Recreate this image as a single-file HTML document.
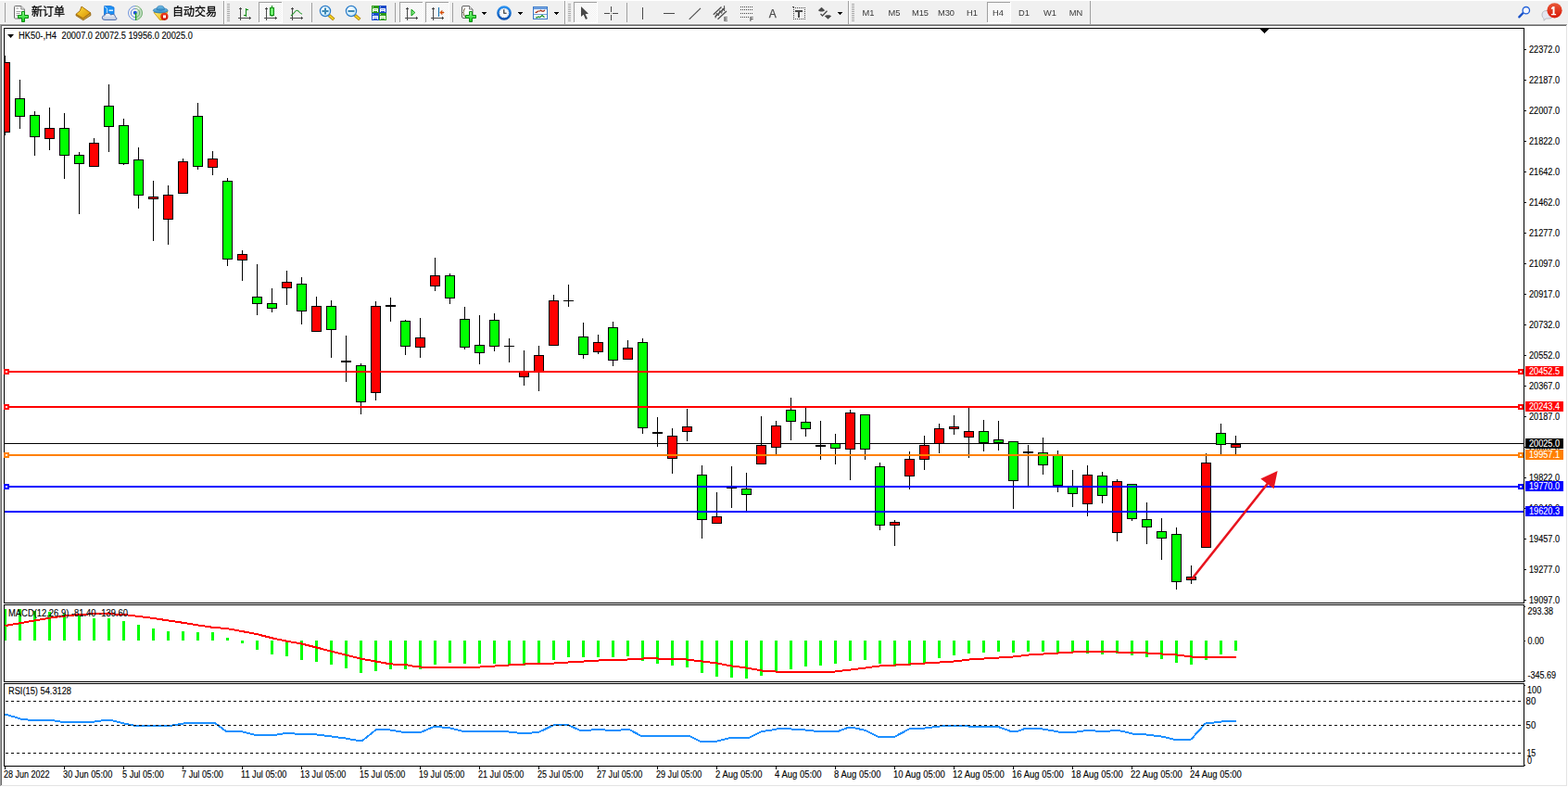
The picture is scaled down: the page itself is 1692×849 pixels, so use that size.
<!DOCTYPE html>
<html><head><meta charset="utf-8"><title>HK50-,H4</title>
<style>
html,body{margin:0;padding:0;background:#fff;width:1692px;height:849px;overflow:hidden;font-family:"Liberation Sans",sans-serif}
svg text{font-family:"Liberation Sans",sans-serif}
</style></head><body>
<svg width="1692" height="849" viewBox="0 0 1692 849" style="position:absolute;left:0;top:0" font-family="Liberation Sans, sans-serif">
<g shape-rendering="crispEdges">
<rect x="0" y="0" width="1692" height="849" fill="#fff"/>
<rect x="0" y="1" width="1692" height="25" fill="#f0f0f0"/>
<rect x="0" y="25" width="1692" height="1" fill="#f8f8f8"/>
<rect x="0" y="26" width="1691" height="1" fill="#a0a0a0"/>
<rect x="0" y="26" width="1" height="822" fill="#a0a0a0"/>
<rect x="1" y="27" width="1689" height="1" fill="#696969"/>
<rect x="1" y="27" width="1" height="820" fill="#696969"/>
<rect x="1690" y="27" width="1" height="821" fill="#e3e3e3"/>
<rect x="1" y="847" width="1690" height="1" fill="#e3e3e3"/>
<rect x="4" y="30" width="1641" height="1" fill="#000"/>
<rect x="4" y="30" width="1" height="621" fill="#000"/><rect x="1644" y="30" width="1" height="621" fill="#000"/>
<rect x="4" y="652" width="1" height="84" fill="#000"/><rect x="1644" y="652" width="1" height="84" fill="#000"/>
<rect x="4" y="737" width="1" height="90" fill="#000"/><rect x="1644" y="737" width="1" height="90" fill="#000"/>
<rect x="1645" y="654" width="1" height="1" fill="#000"/>
<rect x="1645" y="734" width="1" height="1" fill="#000"/>
<rect x="1645" y="739" width="1" height="1" fill="#000"/>
<rect x="1645" y="825" width="1" height="1" fill="#000"/>
<rect x="4" y="650" width="1641" height="1" fill="#000"/>
<rect x="4" y="652" width="1641" height="1" fill="#000"/>
<rect x="4" y="735" width="1641" height="1" fill="#000"/>
<rect x="4" y="737" width="1641" height="1" fill="#000"/>
<rect x="4" y="826" width="1641" height="1" fill="#000"/>
</g>
<g shape-rendering="crispEdges">
<clipPath id="cp"><rect x="5" y="31" width="1639" height="619"/></clipPath>
<rect x="5" y="478" width="1639" height="1" fill="#000"/>
<g clip-path="url(#cp)">
<rect x="5" y="60" width="1" height="86" fill="#000"/>
<rect x="0" y="67" width="11" height="76" fill="#000"/>
<rect x="1" y="68" width="9" height="74" fill="#ff0000"/>
<rect x="21" y="86" width="1" height="53" fill="#000"/>
<rect x="16" y="106" width="11" height="20" fill="#000"/>
<rect x="17" y="107" width="9" height="18" fill="#00ff00"/>
<rect x="37" y="120" width="1" height="48" fill="#000"/>
<rect x="32" y="124" width="11" height="24" fill="#000"/>
<rect x="33" y="125" width="9" height="22" fill="#00ff00"/>
<rect x="53" y="116" width="1" height="46" fill="#000"/>
<rect x="48" y="138" width="11" height="12" fill="#000"/>
<rect x="49" y="139" width="9" height="10" fill="#ff0000"/>
<rect x="69" y="122" width="1" height="71" fill="#000"/>
<rect x="64" y="138" width="11" height="30" fill="#000"/>
<rect x="65" y="139" width="9" height="28" fill="#00ff00"/>
<rect x="85" y="164" width="1" height="67" fill="#000"/>
<rect x="80" y="167" width="11" height="10" fill="#000"/>
<rect x="81" y="168" width="9" height="8" fill="#00ff00"/>
<rect x="101" y="149" width="1" height="31" fill="#000"/>
<rect x="96" y="154" width="11" height="26" fill="#000"/>
<rect x="97" y="155" width="9" height="24" fill="#ff0000"/>
<rect x="117" y="91" width="1" height="73" fill="#000"/>
<rect x="112" y="114" width="11" height="23" fill="#000"/>
<rect x="113" y="115" width="9" height="21" fill="#00ff00"/>
<rect x="133" y="128" width="1" height="50" fill="#000"/>
<rect x="128" y="135" width="11" height="42" fill="#000"/>
<rect x="129" y="136" width="9" height="40" fill="#00ff00"/>
<rect x="149" y="159" width="1" height="66" fill="#000"/>
<rect x="144" y="172" width="11" height="39" fill="#000"/>
<rect x="145" y="173" width="9" height="37" fill="#00ff00"/>
<rect x="165" y="195" width="1" height="65" fill="#000"/>
<rect x="160" y="212" width="11" height="3" fill="#000"/>
<rect x="161" y="213" width="9" height="1" fill="#ff0000"/>
<rect x="181" y="200" width="1" height="64" fill="#000"/>
<rect x="176" y="210" width="11" height="27" fill="#000"/>
<rect x="177" y="211" width="9" height="25" fill="#ff0000"/>
<rect x="197" y="171" width="1" height="38" fill="#000"/>
<rect x="192" y="174" width="11" height="35" fill="#000"/>
<rect x="193" y="175" width="9" height="33" fill="#ff0000"/>
<rect x="213" y="111" width="1" height="72" fill="#000"/>
<rect x="208" y="125" width="11" height="55" fill="#000"/>
<rect x="209" y="126" width="9" height="53" fill="#00ff00"/>
<rect x="229" y="163" width="1" height="26" fill="#000"/>
<rect x="224" y="171" width="11" height="10" fill="#000"/>
<rect x="225" y="172" width="9" height="8" fill="#ff0000"/>
<rect x="245" y="192" width="1" height="95" fill="#000"/>
<rect x="240" y="195" width="11" height="85" fill="#000"/>
<rect x="241" y="196" width="9" height="83" fill="#00ff00"/>
<rect x="261" y="270" width="1" height="33" fill="#000"/>
<rect x="256" y="274" width="11" height="7" fill="#000"/>
<rect x="257" y="275" width="9" height="5" fill="#ff0000"/>
<rect x="277" y="285" width="1" height="55" fill="#000"/>
<rect x="272" y="320" width="11" height="8" fill="#000"/>
<rect x="273" y="321" width="9" height="6" fill="#00ff00"/>
<rect x="293" y="311" width="1" height="26" fill="#000"/>
<rect x="288" y="327" width="11" height="6" fill="#000"/>
<rect x="289" y="328" width="9" height="4" fill="#00ff00"/>
<rect x="309" y="292" width="1" height="37" fill="#000"/>
<rect x="304" y="304" width="11" height="7" fill="#000"/>
<rect x="305" y="305" width="9" height="5" fill="#ff0000"/>
<rect x="325" y="299" width="1" height="51" fill="#000"/>
<rect x="320" y="306" width="11" height="30" fill="#000"/>
<rect x="321" y="307" width="9" height="28" fill="#00ff00"/>
<rect x="341" y="320" width="1" height="38" fill="#000"/>
<rect x="336" y="330" width="11" height="28" fill="#000"/>
<rect x="337" y="331" width="9" height="26" fill="#ff0000"/>
<rect x="357" y="324" width="1" height="62" fill="#000"/>
<rect x="352" y="330" width="11" height="26" fill="#000"/>
<rect x="353" y="331" width="9" height="24" fill="#00ff00"/>
<rect x="373" y="362" width="1" height="50" fill="#000"/>
<rect x="368" y="389" width="11" height="2" fill="#000"/>
<rect x="389" y="392" width="1" height="55" fill="#000"/>
<rect x="384" y="394" width="11" height="40" fill="#000"/>
<rect x="385" y="395" width="9" height="38" fill="#00ff00"/>
<rect x="405" y="325" width="1" height="107" fill="#000"/>
<rect x="400" y="330" width="11" height="94" fill="#000"/>
<rect x="401" y="331" width="9" height="92" fill="#ff0000"/>
<rect x="421" y="321" width="1" height="26" fill="#000"/>
<rect x="416" y="329" width="11" height="2" fill="#000"/>
<rect x="437" y="345" width="1" height="38" fill="#000"/>
<rect x="432" y="346" width="11" height="28" fill="#000"/>
<rect x="433" y="347" width="9" height="26" fill="#00ff00"/>
<rect x="453" y="343" width="1" height="43" fill="#000"/>
<rect x="448" y="364" width="11" height="11" fill="#000"/>
<rect x="449" y="365" width="9" height="9" fill="#ff0000"/>
<rect x="469" y="278" width="1" height="36" fill="#000"/>
<rect x="464" y="297" width="11" height="12" fill="#000"/>
<rect x="465" y="298" width="9" height="10" fill="#ff0000"/>
<rect x="485" y="295" width="1" height="33" fill="#000"/>
<rect x="480" y="297" width="11" height="25" fill="#000"/>
<rect x="481" y="298" width="9" height="23" fill="#00ff00"/>
<rect x="501" y="331" width="1" height="46" fill="#000"/>
<rect x="496" y="344" width="11" height="31" fill="#000"/>
<rect x="497" y="345" width="9" height="29" fill="#00ff00"/>
<rect x="517" y="340" width="1" height="53" fill="#000"/>
<rect x="512" y="372" width="11" height="9" fill="#000"/>
<rect x="513" y="373" width="9" height="7" fill="#00ff00"/>
<rect x="533" y="338" width="1" height="41" fill="#000"/>
<rect x="528" y="345" width="11" height="29" fill="#000"/>
<rect x="529" y="346" width="9" height="27" fill="#00ff00"/>
<rect x="549" y="365" width="1" height="26" fill="#000"/>
<rect x="544" y="373" width="11" height="1" fill="#000"/>
<rect x="565" y="378" width="1" height="38" fill="#000"/>
<rect x="560" y="400" width="11" height="7" fill="#000"/>
<rect x="561" y="401" width="9" height="5" fill="#ff0000"/>
<rect x="581" y="373" width="1" height="49" fill="#000"/>
<rect x="576" y="383" width="11" height="19" fill="#000"/>
<rect x="577" y="384" width="9" height="17" fill="#ff0000"/>
<rect x="597" y="318" width="1" height="55" fill="#000"/>
<rect x="592" y="324" width="11" height="49" fill="#000"/>
<rect x="593" y="325" width="9" height="47" fill="#ff0000"/>
<rect x="613" y="307" width="1" height="24" fill="#000"/>
<rect x="608" y="324" width="11" height="1" fill="#000"/>
<rect x="629" y="348" width="1" height="39" fill="#000"/>
<rect x="624" y="363" width="11" height="20" fill="#000"/>
<rect x="625" y="364" width="9" height="18" fill="#00ff00"/>
<rect x="645" y="361" width="1" height="21" fill="#000"/>
<rect x="640" y="369" width="11" height="11" fill="#000"/>
<rect x="641" y="370" width="9" height="9" fill="#ff0000"/>
<rect x="661" y="347" width="1" height="48" fill="#000"/>
<rect x="656" y="353" width="11" height="36" fill="#000"/>
<rect x="657" y="354" width="9" height="34" fill="#00ff00"/>
<rect x="677" y="367" width="1" height="21" fill="#000"/>
<rect x="672" y="375" width="11" height="13" fill="#000"/>
<rect x="673" y="376" width="9" height="11" fill="#ff0000"/>
<rect x="693" y="365" width="1" height="103" fill="#000"/>
<rect x="688" y="369" width="11" height="93" fill="#000"/>
<rect x="689" y="370" width="9" height="91" fill="#00ff00"/>
<rect x="709" y="450" width="1" height="32" fill="#000"/>
<rect x="704" y="466" width="11" height="2" fill="#000"/>
<rect x="725" y="462" width="1" height="49" fill="#000"/>
<rect x="720" y="470" width="11" height="25" fill="#000"/>
<rect x="721" y="471" width="9" height="23" fill="#ff0000"/>
<rect x="741" y="441" width="1" height="35" fill="#000"/>
<rect x="736" y="460" width="11" height="6" fill="#000"/>
<rect x="737" y="461" width="9" height="4" fill="#ff0000"/>
<rect x="757" y="502" width="1" height="79" fill="#000"/>
<rect x="752" y="512" width="11" height="49" fill="#000"/>
<rect x="753" y="513" width="9" height="47" fill="#00ff00"/>
<rect x="773" y="531" width="1" height="34" fill="#000"/>
<rect x="768" y="557" width="11" height="8" fill="#000"/>
<rect x="769" y="558" width="9" height="6" fill="#ff0000"/>
<rect x="789" y="503" width="1" height="45" fill="#000"/>
<rect x="784" y="526" width="11" height="1" fill="#000"/>
<rect x="805" y="510" width="1" height="41" fill="#000"/>
<rect x="800" y="527" width="11" height="7" fill="#000"/>
<rect x="801" y="528" width="9" height="5" fill="#00ff00"/>
<rect x="821" y="449" width="1" height="52" fill="#000"/>
<rect x="816" y="480" width="11" height="21" fill="#000"/>
<rect x="817" y="481" width="9" height="19" fill="#ff0000"/>
<rect x="837" y="454" width="1" height="36" fill="#000"/>
<rect x="832" y="459" width="11" height="24" fill="#000"/>
<rect x="833" y="460" width="9" height="22" fill="#ff0000"/>
<rect x="853" y="429" width="1" height="46" fill="#000"/>
<rect x="848" y="442" width="11" height="13" fill="#000"/>
<rect x="849" y="443" width="9" height="11" fill="#00ff00"/>
<rect x="869" y="440" width="1" height="31" fill="#000"/>
<rect x="864" y="455" width="11" height="8" fill="#000"/>
<rect x="865" y="456" width="9" height="6" fill="#00ff00"/>
<rect x="885" y="454" width="1" height="42" fill="#000"/>
<rect x="880" y="480" width="11" height="2" fill="#000"/>
<rect x="901" y="468" width="1" height="33" fill="#000"/>
<rect x="896" y="478" width="11" height="6" fill="#000"/>
<rect x="897" y="479" width="9" height="4" fill="#00ff00"/>
<rect x="917" y="442" width="1" height="76" fill="#000"/>
<rect x="912" y="445" width="11" height="40" fill="#000"/>
<rect x="913" y="446" width="9" height="38" fill="#ff0000"/>
<rect x="933" y="447" width="1" height="49" fill="#000"/>
<rect x="928" y="447" width="11" height="38" fill="#000"/>
<rect x="929" y="448" width="9" height="36" fill="#00ff00"/>
<rect x="949" y="499" width="1" height="73" fill="#000"/>
<rect x="944" y="503" width="11" height="64" fill="#000"/>
<rect x="945" y="504" width="9" height="62" fill="#00ff00"/>
<rect x="965" y="561" width="1" height="28" fill="#000"/>
<rect x="960" y="563" width="11" height="4" fill="#000"/>
<rect x="961" y="564" width="9" height="2" fill="#ff0000"/>
<rect x="981" y="487" width="1" height="41" fill="#000"/>
<rect x="976" y="495" width="11" height="19" fill="#000"/>
<rect x="977" y="496" width="9" height="17" fill="#ff0000"/>
<rect x="997" y="470" width="1" height="37" fill="#000"/>
<rect x="992" y="480" width="11" height="16" fill="#000"/>
<rect x="993" y="481" width="9" height="14" fill="#ff0000"/>
<rect x="1013" y="457" width="1" height="32" fill="#000"/>
<rect x="1008" y="462" width="11" height="17" fill="#000"/>
<rect x="1009" y="463" width="9" height="15" fill="#ff0000"/>
<rect x="1029" y="448" width="1" height="21" fill="#000"/>
<rect x="1024" y="460" width="11" height="3" fill="#000"/>
<rect x="1025" y="461" width="9" height="1" fill="#ff0000"/>
<rect x="1045" y="440" width="1" height="54" fill="#000"/>
<rect x="1040" y="465" width="11" height="7" fill="#000"/>
<rect x="1041" y="466" width="9" height="5" fill="#ff0000"/>
<rect x="1061" y="453" width="1" height="34" fill="#000"/>
<rect x="1056" y="465" width="11" height="13" fill="#000"/>
<rect x="1057" y="466" width="9" height="11" fill="#00ff00"/>
<rect x="1077" y="454" width="1" height="32" fill="#000"/>
<rect x="1072" y="474" width="11" height="4" fill="#000"/>
<rect x="1073" y="475" width="9" height="2" fill="#00ff00"/>
<rect x="1093" y="476" width="1" height="73" fill="#000"/>
<rect x="1088" y="476" width="11" height="43" fill="#000"/>
<rect x="1089" y="477" width="9" height="41" fill="#00ff00"/>
<rect x="1109" y="480" width="1" height="44" fill="#000"/>
<rect x="1104" y="487" width="11" height="2" fill="#000"/>
<rect x="1125" y="472" width="1" height="40" fill="#000"/>
<rect x="1120" y="488" width="11" height="14" fill="#000"/>
<rect x="1121" y="489" width="9" height="12" fill="#00ff00"/>
<rect x="1141" y="486" width="1" height="45" fill="#000"/>
<rect x="1136" y="490" width="11" height="34" fill="#000"/>
<rect x="1137" y="491" width="9" height="32" fill="#00ff00"/>
<rect x="1157" y="507" width="1" height="40" fill="#000"/>
<rect x="1152" y="525" width="11" height="8" fill="#000"/>
<rect x="1153" y="526" width="9" height="6" fill="#00ff00"/>
<rect x="1173" y="502" width="1" height="55" fill="#000"/>
<rect x="1168" y="512" width="11" height="32" fill="#000"/>
<rect x="1169" y="513" width="9" height="30" fill="#ff0000"/>
<rect x="1189" y="509" width="1" height="34" fill="#000"/>
<rect x="1184" y="513" width="11" height="22" fill="#000"/>
<rect x="1185" y="514" width="9" height="20" fill="#00ff00"/>
<rect x="1205" y="517" width="1" height="67" fill="#000"/>
<rect x="1200" y="519" width="11" height="56" fill="#000"/>
<rect x="1201" y="520" width="9" height="54" fill="#ff0000"/>
<rect x="1221" y="522" width="1" height="40" fill="#000"/>
<rect x="1216" y="522" width="11" height="38" fill="#000"/>
<rect x="1217" y="523" width="9" height="36" fill="#00ff00"/>
<rect x="1237" y="542" width="1" height="45" fill="#000"/>
<rect x="1232" y="560" width="11" height="9" fill="#000"/>
<rect x="1233" y="561" width="9" height="7" fill="#00ff00"/>
<rect x="1253" y="559" width="1" height="45" fill="#000"/>
<rect x="1248" y="573" width="11" height="8" fill="#000"/>
<rect x="1249" y="574" width="9" height="6" fill="#00ff00"/>
<rect x="1269" y="569" width="1" height="67" fill="#000"/>
<rect x="1264" y="576" width="11" height="52" fill="#000"/>
<rect x="1265" y="577" width="9" height="50" fill="#00ff00"/>
<rect x="1285" y="610" width="1" height="20" fill="#000"/>
<rect x="1280" y="622" width="11" height="4" fill="#000"/>
<rect x="1281" y="623" width="9" height="2" fill="#ff0000"/>
<rect x="1301" y="489" width="1" height="102" fill="#000"/>
<rect x="1296" y="499" width="11" height="92" fill="#000"/>
<rect x="1297" y="500" width="9" height="90" fill="#ff0000"/>
<rect x="1317" y="457" width="1" height="33" fill="#000"/>
<rect x="1312" y="467" width="11" height="13" fill="#000"/>
<rect x="1313" y="468" width="9" height="11" fill="#00ff00"/>
<rect x="1333" y="470" width="1" height="20" fill="#000"/>
<rect x="1328" y="479" width="11" height="4" fill="#000"/>
<rect x="1329" y="480" width="9" height="2" fill="#ff0000"/>
</g>
<rect x="5" y="400" width="1639" height="2" fill="#ff0000"/>
<rect x="4" y="398" width="6" height="6" fill="#ff0000"/>
<rect x="6" y="400" width="2" height="2" fill="#fff"/>
<rect x="1638" y="398" width="6" height="6" fill="#ff0000"/>
<rect x="1640" y="400" width="2" height="2" fill="#fff"/>
<rect x="5" y="438" width="1639" height="2" fill="#ff0000"/>
<rect x="4" y="436" width="6" height="6" fill="#ff0000"/>
<rect x="6" y="438" width="2" height="2" fill="#fff"/>
<rect x="1638" y="436" width="6" height="6" fill="#ff0000"/>
<rect x="1640" y="438" width="2" height="2" fill="#fff"/>
<rect x="5" y="490" width="1639" height="2" fill="#ff8000"/>
<rect x="4" y="488" width="6" height="6" fill="#ff8000"/>
<rect x="6" y="490" width="2" height="2" fill="#fff"/>
<rect x="1638" y="488" width="6" height="6" fill="#ff8000"/>
<rect x="1640" y="490" width="2" height="2" fill="#fff"/>
<rect x="5" y="524" width="1639" height="2" fill="#0000ff"/>
<rect x="4" y="522" width="6" height="6" fill="#0000ff"/>
<rect x="6" y="524" width="2" height="2" fill="#fff"/>
<rect x="1638" y="522" width="6" height="6" fill="#0000ff"/>
<rect x="1640" y="524" width="2" height="2" fill="#fff"/>
<rect x="5" y="551" width="1639" height="2" fill="#0000ff"/>
<path d="M1360 31h9v1h-1v1h-1v1h-1v1h-1v1h-1v-1h-1v-1h-1v-1h-1v-1h-1z" fill="#000"/>
<rect x="1645" y="53" width="2" height="1" fill="#000"/>
<rect x="1645" y="86" width="2" height="1" fill="#000"/>
<rect x="1645" y="119" width="2" height="1" fill="#000"/>
<rect x="1645" y="152" width="2" height="1" fill="#000"/>
<rect x="1645" y="185" width="2" height="1" fill="#000"/>
<rect x="1645" y="218" width="2" height="1" fill="#000"/>
<rect x="1645" y="251" width="2" height="1" fill="#000"/>
<rect x="1645" y="284" width="2" height="1" fill="#000"/>
<rect x="1645" y="317" width="2" height="1" fill="#000"/>
<rect x="1645" y="350" width="2" height="1" fill="#000"/>
<rect x="1645" y="383" width="2" height="1" fill="#000"/>
<rect x="1645" y="416" width="2" height="1" fill="#000"/>
<rect x="1645" y="449" width="2" height="1" fill="#000"/>
<rect x="1645" y="482" width="2" height="1" fill="#000"/>
<rect x="1645" y="515" width="2" height="1" fill="#000"/>
<rect x="1645" y="548" width="2" height="1" fill="#000"/>
<rect x="1645" y="581" width="2" height="1" fill="#000"/>
<rect x="1645" y="614" width="2" height="1" fill="#000"/>
<rect x="1645" y="647" width="2" height="1" fill="#000"/>
</g>
<text x="1650" y="57" font-size="10" fill="#000" stroke="#000" stroke-width="0.12" text-anchor="start" textLength="33" lengthAdjust="spacingAndGlyphs" >22372.0</text>
<text x="1650" y="90" font-size="10" fill="#000" stroke="#000" stroke-width="0.12" text-anchor="start" textLength="33" lengthAdjust="spacingAndGlyphs" >22187.0</text>
<text x="1650" y="123" font-size="10" fill="#000" stroke="#000" stroke-width="0.12" text-anchor="start" textLength="33" lengthAdjust="spacingAndGlyphs" >22007.0</text>
<text x="1650" y="156" font-size="10" fill="#000" stroke="#000" stroke-width="0.12" text-anchor="start" textLength="33" lengthAdjust="spacingAndGlyphs" >21822.0</text>
<text x="1650" y="189" font-size="10" fill="#000" stroke="#000" stroke-width="0.12" text-anchor="start" textLength="33" lengthAdjust="spacingAndGlyphs" >21642.0</text>
<text x="1650" y="222" font-size="10" fill="#000" stroke="#000" stroke-width="0.12" text-anchor="start" textLength="33" lengthAdjust="spacingAndGlyphs" >21462.0</text>
<text x="1650" y="255" font-size="10" fill="#000" stroke="#000" stroke-width="0.12" text-anchor="start" textLength="33" lengthAdjust="spacingAndGlyphs" >21277.0</text>
<text x="1650" y="288" font-size="10" fill="#000" stroke="#000" stroke-width="0.12" text-anchor="start" textLength="33" lengthAdjust="spacingAndGlyphs" >21097.0</text>
<text x="1650" y="321" font-size="10" fill="#000" stroke="#000" stroke-width="0.12" text-anchor="start" textLength="33" lengthAdjust="spacingAndGlyphs" >20917.0</text>
<text x="1650" y="354" font-size="10" fill="#000" stroke="#000" stroke-width="0.12" text-anchor="start" textLength="33" lengthAdjust="spacingAndGlyphs" >20732.0</text>
<text x="1650" y="387" font-size="10" fill="#000" stroke="#000" stroke-width="0.12" text-anchor="start" textLength="33" lengthAdjust="spacingAndGlyphs" >20552.0</text>
<text x="1650" y="420" font-size="10" fill="#000" stroke="#000" stroke-width="0.12" text-anchor="start" textLength="33" lengthAdjust="spacingAndGlyphs" >20367.0</text>
<text x="1650" y="453" font-size="10" fill="#000" stroke="#000" stroke-width="0.12" text-anchor="start" textLength="33" lengthAdjust="spacingAndGlyphs" >20187.0</text>
<text x="1650" y="486" font-size="10" fill="#000" stroke="#000" stroke-width="0.12" text-anchor="start" textLength="33" lengthAdjust="spacingAndGlyphs" >20007.0</text>
<text x="1650" y="519" font-size="10" fill="#000" stroke="#000" stroke-width="0.12" text-anchor="start" textLength="33" lengthAdjust="spacingAndGlyphs" >19822.0</text>
<text x="1650" y="552" font-size="10" fill="#000" stroke="#000" stroke-width="0.12" text-anchor="start" textLength="33" lengthAdjust="spacingAndGlyphs" >19642.0</text>
<text x="1650" y="585" font-size="10" fill="#000" stroke="#000" stroke-width="0.12" text-anchor="start" textLength="33" lengthAdjust="spacingAndGlyphs" >19457.0</text>
<text x="1650" y="618" font-size="10" fill="#000" stroke="#000" stroke-width="0.12" text-anchor="start" textLength="33" lengthAdjust="spacingAndGlyphs" >19277.0</text>
<text x="1650" y="651" font-size="10" fill="#000" stroke="#000" stroke-width="0.12" text-anchor="start" textLength="33" lengthAdjust="spacingAndGlyphs" >19097.0</text>
<rect x="1646" y="395" width="41" height="11" fill="#ff0000" shape-rendering="crispEdges"/>
<text x="1650" y="404" font-size="10" fill="#fff" stroke="#fff" stroke-width="0.12" text-anchor="start" textLength="33" lengthAdjust="spacingAndGlyphs" >20452.5</text>
<rect x="1646" y="433" width="41" height="11" fill="#ff0000" shape-rendering="crispEdges"/>
<text x="1650" y="442" font-size="10" fill="#fff" stroke="#fff" stroke-width="0.12" text-anchor="start" textLength="33" lengthAdjust="spacingAndGlyphs" >20243.4</text>
<rect x="1646" y="473" width="41" height="11" fill="#000000" shape-rendering="crispEdges"/>
<text x="1650" y="482" font-size="10" fill="#fff" stroke="#fff" stroke-width="0.12" text-anchor="start" textLength="33" lengthAdjust="spacingAndGlyphs" >20025.0</text>
<rect x="1646" y="485" width="41" height="11" fill="#ff8000" shape-rendering="crispEdges"/>
<text x="1650" y="494" font-size="10" fill="#fff" stroke="#fff" stroke-width="0.12" text-anchor="start" textLength="33" lengthAdjust="spacingAndGlyphs" >19957.1</text>
<rect x="1646" y="519" width="41" height="11" fill="#0000ff" shape-rendering="crispEdges"/>
<text x="1650" y="528" font-size="10" fill="#fff" stroke="#fff" stroke-width="0.12" text-anchor="start" textLength="33" lengthAdjust="spacingAndGlyphs" >19770.0</text>
<rect x="1646" y="546" width="41" height="11" fill="#0000ff" shape-rendering="crispEdges"/>
<text x="1650" y="555" font-size="10" fill="#fff" stroke="#fff" stroke-width="0.12" text-anchor="start" textLength="33" lengthAdjust="spacingAndGlyphs" >19620.3</text>
<path d="M8 37h7l-3.5 4z" fill="#000"/>
<text x="20" y="41.6" font-size="10" fill="#000" stroke="#000" stroke-width="0.12" text-anchor="start" textLength="41" lengthAdjust="spacingAndGlyphs" >HK50-,H4</text>
<text x="66.6" y="41.6" font-size="10" fill="#000" stroke="#000" stroke-width="0.12" text-anchor="start" textLength="141.2" lengthAdjust="spacingAndGlyphs" >20007.0 20072.5 19956.0 20025.0</text>
<g shape-rendering="crispEdges">
<clipPath id="cp2"><rect x="5" y="653" width="1639" height="82"/></clipPath><g clip-path="url(#cp2)">
<rect x="4" y="657" width="3" height="34" fill="#00ff00"/>
<rect x="20" y="657" width="3" height="34" fill="#00ff00"/>
<rect x="36" y="659" width="3" height="32" fill="#00ff00"/>
<rect x="52" y="660" width="3" height="31" fill="#00ff00"/>
<rect x="68" y="662" width="3" height="29" fill="#00ff00"/>
<rect x="84" y="664" width="3" height="27" fill="#00ff00"/>
<rect x="100" y="667" width="3" height="24" fill="#00ff00"/>
<rect x="116" y="667" width="3" height="24" fill="#00ff00"/>
<rect x="132" y="670" width="3" height="21" fill="#00ff00"/>
<rect x="148" y="674" width="3" height="17" fill="#00ff00"/>
<rect x="164" y="678" width="3" height="13" fill="#00ff00"/>
<rect x="180" y="681" width="3" height="10" fill="#00ff00"/>
<rect x="196" y="681" width="3" height="10" fill="#00ff00"/>
<rect x="212" y="682" width="3" height="9" fill="#00ff00"/>
<rect x="228" y="682" width="3" height="9" fill="#00ff00"/>
<rect x="244" y="688" width="3" height="3" fill="#00ff00"/>
<rect x="260" y="691" width="3" height="3" fill="#00ff00"/>
<rect x="276" y="691" width="3" height="10" fill="#00ff00"/>
<rect x="292" y="691" width="3" height="15" fill="#00ff00"/>
<rect x="308" y="691" width="3" height="17" fill="#00ff00"/>
<rect x="324" y="691" width="3" height="21" fill="#00ff00"/>
<rect x="340" y="691" width="3" height="23" fill="#00ff00"/>
<rect x="356" y="691" width="3" height="26" fill="#00ff00"/>
<rect x="372" y="691" width="3" height="30" fill="#00ff00"/>
<rect x="388" y="691" width="3" height="35" fill="#00ff00"/>
<rect x="404" y="691" width="3" height="33" fill="#00ff00"/>
<rect x="420" y="691" width="3" height="31" fill="#00ff00"/>
<rect x="436" y="691" width="3" height="31" fill="#00ff00"/>
<rect x="452" y="691" width="3" height="31" fill="#00ff00"/>
<rect x="468" y="691" width="3" height="26" fill="#00ff00"/>
<rect x="484" y="691" width="3" height="24" fill="#00ff00"/>
<rect x="500" y="691" width="3" height="25" fill="#00ff00"/>
<rect x="516" y="691" width="3" height="25" fill="#00ff00"/>
<rect x="532" y="691" width="3" height="25" fill="#00ff00"/>
<rect x="548" y="691" width="3" height="26" fill="#00ff00"/>
<rect x="564" y="691" width="3" height="27" fill="#00ff00"/>
<rect x="580" y="691" width="3" height="25" fill="#00ff00"/>
<rect x="596" y="691" width="3" height="21" fill="#00ff00"/>
<rect x="612" y="691" width="3" height="18" fill="#00ff00"/>
<rect x="628" y="691" width="3" height="18" fill="#00ff00"/>
<rect x="644" y="691" width="3" height="18" fill="#00ff00"/>
<rect x="660" y="691" width="3" height="18" fill="#00ff00"/>
<rect x="676" y="691" width="3" height="17" fill="#00ff00"/>
<rect x="692" y="691" width="3" height="22" fill="#00ff00"/>
<rect x="708" y="691" width="3" height="25" fill="#00ff00"/>
<rect x="724" y="691" width="3" height="27" fill="#00ff00"/>
<rect x="740" y="691" width="3" height="29" fill="#00ff00"/>
<rect x="756" y="691" width="3" height="35" fill="#00ff00"/>
<rect x="772" y="691" width="3" height="39" fill="#00ff00"/>
<rect x="788" y="691" width="3" height="40" fill="#00ff00"/>
<rect x="804" y="691" width="3" height="41" fill="#00ff00"/>
<rect x="820" y="691" width="3" height="38" fill="#00ff00"/>
<rect x="836" y="691" width="3" height="34" fill="#00ff00"/>
<rect x="852" y="691" width="3" height="31" fill="#00ff00"/>
<rect x="868" y="691" width="3" height="28" fill="#00ff00"/>
<rect x="884" y="691" width="3" height="27" fill="#00ff00"/>
<rect x="900" y="691" width="3" height="25" fill="#00ff00"/>
<rect x="916" y="691" width="3" height="22" fill="#00ff00"/>
<rect x="932" y="691" width="3" height="21" fill="#00ff00"/>
<rect x="948" y="691" width="3" height="25" fill="#00ff00"/>
<rect x="964" y="691" width="3" height="28" fill="#00ff00"/>
<rect x="980" y="691" width="3" height="27" fill="#00ff00"/>
<rect x="996" y="691" width="3" height="24" fill="#00ff00"/>
<rect x="1012" y="691" width="3" height="19" fill="#00ff00"/>
<rect x="1028" y="691" width="3" height="16" fill="#00ff00"/>
<rect x="1044" y="691" width="3" height="14" fill="#00ff00"/>
<rect x="1060" y="691" width="3" height="13" fill="#00ff00"/>
<rect x="1076" y="691" width="3" height="12" fill="#00ff00"/>
<rect x="1092" y="691" width="3" height="13" fill="#00ff00"/>
<rect x="1108" y="691" width="3" height="12" fill="#00ff00"/>
<rect x="1124" y="691" width="3" height="12" fill="#00ff00"/>
<rect x="1140" y="691" width="3" height="13" fill="#00ff00"/>
<rect x="1156" y="691" width="3" height="13" fill="#00ff00"/>
<rect x="1172" y="691" width="3" height="14" fill="#00ff00"/>
<rect x="1188" y="691" width="3" height="15" fill="#00ff00"/>
<rect x="1204" y="691" width="3" height="14" fill="#00ff00"/>
<rect x="1220" y="691" width="3" height="16" fill="#00ff00"/>
<rect x="1236" y="691" width="3" height="18" fill="#00ff00"/>
<rect x="1252" y="691" width="3" height="20" fill="#00ff00"/>
<rect x="1268" y="691" width="3" height="24" fill="#00ff00"/>
<rect x="1284" y="691" width="3" height="26" fill="#00ff00"/>
<rect x="1300" y="691" width="3" height="21" fill="#00ff00"/>
<rect x="1316" y="691" width="3" height="15" fill="#00ff00"/>
<rect x="1332" y="691" width="3" height="11" fill="#00ff00"/>
</g></g>
<polyline points="5.5,675 21.5,672.3 37.5,669.4 53.5,666.7 69.5,664.5 85.5,663 101.5,662.2 117.5,662.2 133.5,663 149.5,665 165.5,667 181.5,669.4 197.5,671.8 213.5,674.4 229.5,676.8 245.5,678.2 261.5,681.1 277.5,684.2 293.5,688.3 309.5,691.7 325.5,694.5 341.5,698.5 357.5,702.6 373.5,706.7 389.5,710.7 405.5,713.5 421.5,716.4 437.5,717.2 440.5,717.6" fill="none" stroke="#ff0000" stroke-width="2" clip-path="url(#cp2)" shape-rendering="crispEdges"/>
<g shape-rendering="crispEdges" fill="#ff0000">
<rect x="440" y="717" width="5" height="2"/>
<rect x="445" y="718" width="9" height="2"/>
<rect x="454" y="719" width="64" height="2"/>
<rect x="518" y="718" width="16" height="2"/>
<rect x="534" y="717" width="15" height="2"/>
<rect x="549" y="716" width="17" height="2"/>
<rect x="566" y="715" width="32" height="2"/>
<rect x="598" y="714" width="15" height="2"/>
<rect x="613" y="713" width="17" height="2"/>
<rect x="630" y="712" width="16" height="2"/>
<rect x="646" y="711" width="31" height="2"/>
<rect x="677" y="710" width="17" height="2"/>
<rect x="694" y="709" width="16" height="2"/>
<rect x="710" y="710" width="31" height="2"/>
<rect x="741" y="711" width="8" height="2"/>
<rect x="749" y="712" width="9" height="2"/>
<rect x="758" y="713" width="8" height="2"/>
<rect x="766" y="714" width="8" height="2"/>
<rect x="774" y="715" width="5" height="2"/>
<rect x="779" y="716" width="5" height="2"/>
<rect x="784" y="717" width="6" height="2"/>
<rect x="790" y="718" width="8" height="2"/>
<rect x="798" y="719" width="7" height="2"/>
<rect x="805" y="720" width="6" height="2"/>
<rect x="811" y="721" width="6" height="2"/>
<rect x="817" y="722" width="5" height="2"/>
<rect x="822" y="723" width="15" height="2"/>
<rect x="837" y="724" width="64" height="2"/>
<rect x="901" y="723" width="8" height="2"/>
<rect x="909" y="722" width="9" height="2"/>
<rect x="918" y="721" width="8" height="2"/>
<rect x="926" y="720" width="8" height="2"/>
<rect x="934" y="719" width="7" height="2"/>
<rect x="941" y="718" width="8" height="2"/>
<rect x="949" y="717" width="17" height="2"/>
<rect x="966" y="716" width="16" height="2"/>
<rect x="982" y="715" width="16" height="2"/>
<rect x="998" y="714" width="16" height="2"/>
<rect x="1014" y="713" width="15" height="2"/>
<rect x="1029" y="712" width="9" height="2"/>
<rect x="1038" y="711" width="8" height="2"/>
<rect x="1046" y="710" width="16" height="2"/>
<rect x="1062" y="709" width="16" height="2"/>
<rect x="1078" y="708" width="15" height="2"/>
<rect x="1093" y="707" width="9" height="2"/>
<rect x="1102" y="706" width="8" height="2"/>
<rect x="1110" y="705" width="16" height="2"/>
<rect x="1126" y="704" width="16" height="2"/>
<rect x="1142" y="703" width="16" height="2"/>
<rect x="1158" y="702" width="48" height="2"/>
<rect x="1206" y="703" width="32" height="2"/>
<rect x="1238" y="704" width="16" height="2"/>
<rect x="1254" y="705" width="16" height="2"/>
<rect x="1270" y="706" width="8" height="2"/>
<rect x="1278" y="707" width="8" height="2"/>
<rect x="1286" y="708" width="48" height="2"/>
</g>
<text x="9" y="665" font-size="10" fill="#000" stroke="#000" stroke-width="0.12" text-anchor="start" textLength="129" lengthAdjust="spacingAndGlyphs" >MACD(12,26,9) -81.40 -139.60</text>
<text x="1648.5" y="663.2" font-size="10" fill="#000" stroke="#000" stroke-width="0.12" text-anchor="start" textLength="27.5" lengthAdjust="spacingAndGlyphs" >293.38</text>
<text x="1648.5" y="695.2" font-size="10" fill="#000" stroke="#000" stroke-width="0.12" text-anchor="start" textLength="17.5" lengthAdjust="spacingAndGlyphs" >0.00</text>
<text x="1648.5" y="732.2" font-size="10" fill="#000" stroke="#000" stroke-width="0.12" text-anchor="start" textLength="30.5" lengthAdjust="spacingAndGlyphs" >-345.69</text>
<g shape-rendering="crispEdges"><rect x="1645" y="691" width="1" height="1" fill="#000"/></g>
<g shape-rendering="crispEdges" fill="#1e90ff" stroke="#1e90ff" stroke-width="0">
<rect x="5" y="770" width="4" height="2"/>
<rect x="9" y="771" width="3" height="2"/>
<rect x="12" y="772" width="4" height="2"/>
<rect x="16" y="773" width="3" height="2"/>
<rect x="19" y="774" width="3" height="2"/>
<rect x="22" y="775" width="8" height="2"/>
<rect x="30" y="776" width="29" height="2"/>
<rect x="59" y="777" width="6" height="2"/>
<rect x="65" y="778" width="37" height="2"/>
<rect x="102" y="777" width="7" height="2"/>
<rect x="109" y="776" width="13" height="2"/>
<rect x="122" y="777" width="4" height="2"/>
<rect x="126" y="778" width="4" height="2"/>
<rect x="130" y="779" width="4" height="2"/>
<rect x="134" y="780" width="5" height="2"/>
<rect x="139" y="781" width="5" height="2"/>
<rect x="144" y="782" width="42" height="2"/>
<rect x="186" y="781" width="6" height="2"/>
<rect x="192" y="780" width="6" height="2"/>
<rect x="198" y="779" width="34" height="2"/>
<line x1="232" y1="780" x2="244" y2="789" stroke-width="2"/>
<rect x="244" y="788" width="18" height="2"/>
<rect x="262" y="789" width="4" height="2"/>
<rect x="266" y="790" width="4" height="2"/>
<rect x="270" y="791" width="4" height="2"/>
<rect x="274" y="792" width="25" height="2"/>
<rect x="299" y="791" width="6" height="2"/>
<rect x="305" y="790" width="13" height="2"/>
<rect x="318" y="791" width="24" height="2"/>
<rect x="342" y="792" width="8" height="2"/>
<rect x="350" y="793" width="8" height="2"/>
<rect x="358" y="794" width="7" height="2"/>
<rect x="365" y="795" width="8" height="2"/>
<rect x="373" y="796" width="5" height="2"/>
<rect x="378" y="797" width="6" height="2"/>
<rect x="384" y="798" width="7" height="2"/>
<line x1="391" y1="799" x2="406" y2="787" stroke-width="2"/>
<rect x="406" y="786" width="15" height="2"/>
<rect x="421" y="787" width="6" height="2"/>
<rect x="427" y="788" width="6" height="2"/>
<rect x="433" y="789" width="21" height="2"/>
<line x1="454" y1="790" x2="468" y2="784" stroke-width="2"/>
<rect x="468" y="783" width="9" height="2"/>
<rect x="477" y="784" width="9" height="2"/>
<rect x="486" y="785" width="4" height="2"/>
<rect x="490" y="786" width="4" height="2"/>
<rect x="494" y="787" width="4" height="2"/>
<rect x="498" y="788" width="51" height="2"/>
<rect x="549" y="789" width="9" height="2"/>
<rect x="558" y="790" width="16" height="2"/>
<rect x="574" y="789" width="7" height="2"/>
<line x1="581" y1="790" x2="598" y2="782" stroke-width="2"/>
<rect x="598" y="781" width="15" height="2"/>
<line x1="613" y1="782" x2="626" y2="788" stroke-width="2"/>
<rect x="626" y="787" width="12" height="2"/>
<rect x="638" y="786" width="15" height="2"/>
<rect x="653" y="787" width="17" height="2"/>
<rect x="670" y="786" width="9" height="2"/>
<line x1="679" y1="787" x2="692" y2="794" stroke-width="2"/>
<rect x="692" y="793" width="52" height="2"/>
<line x1="744" y1="794" x2="756" y2="800" stroke-width="2"/>
<rect x="756" y="799" width="18" height="2"/>
<rect x="774" y="798" width="4" height="2"/>
<rect x="778" y="797" width="4" height="2"/>
<rect x="782" y="796" width="4" height="2"/>
<rect x="786" y="795" width="22" height="2"/>
<line x1="808" y1="796" x2="822" y2="789" stroke-width="2"/>
<rect x="822" y="788" width="4" height="2"/>
<rect x="826" y="787" width="7" height="2"/>
<rect x="833" y="786" width="5" height="2"/>
<rect x="838" y="785" width="16" height="2"/>
<rect x="854" y="786" width="15" height="2"/>
<rect x="869" y="787" width="9" height="2"/>
<rect x="878" y="788" width="26" height="2"/>
<line x1="904" y1="789" x2="915" y2="785" stroke-width="2"/>
<rect x="915" y="784" width="6" height="2"/>
<line x1="921" y1="785" x2="934" y2="788" stroke-width="2"/>
<line x1="934" y1="788" x2="948" y2="795" stroke-width="2"/>
<rect x="948" y="794" width="17" height="2"/>
<line x1="965" y1="795" x2="982" y2="786" stroke-width="2"/>
<rect x="982" y="785" width="16" height="2"/>
<rect x="998" y="784" width="8" height="2"/>
<rect x="1006" y="783" width="8" height="2"/>
<rect x="1014" y="782" width="31" height="2"/>
<rect x="1045" y="783" width="32" height="2"/>
<line x1="1077" y1="784" x2="1091" y2="789" stroke-width="2"/>
<rect x="1091" y="788" width="7" height="2"/>
<line x1="1098" y1="789" x2="1106" y2="786" stroke-width="2"/>
<rect x="1106" y="785" width="19" height="2"/>
<rect x="1125" y="786" width="6" height="2"/>
<rect x="1131" y="787" width="6" height="2"/>
<rect x="1137" y="788" width="5" height="2"/>
<rect x="1142" y="789" width="20" height="2"/>
<rect x="1162" y="788" width="7" height="2"/>
<rect x="1169" y="787" width="13" height="2"/>
<rect x="1182" y="788" width="16" height="2"/>
<rect x="1198" y="787" width="11" height="2"/>
<rect x="1209" y="788" width="5" height="2"/>
<rect x="1214" y="789" width="4" height="2"/>
<rect x="1218" y="790" width="4" height="2"/>
<rect x="1222" y="791" width="15" height="2"/>
<rect x="1237" y="792" width="8" height="2"/>
<rect x="1245" y="793" width="8" height="2"/>
<rect x="1253" y="794" width="5" height="2"/>
<rect x="1258" y="795" width="4" height="2"/>
<rect x="1262" y="796" width="4" height="2"/>
<rect x="1266" y="797" width="19" height="2"/>
<line x1="1285" y1="798" x2="1301" y2="780" stroke-width="2"/>
<rect x="1301" y="779" width="9" height="2"/>
<rect x="1310" y="778" width="8" height="2"/>
<rect x="1318" y="777" width="16" height="2"/>
</g>
<g shape-rendering="crispEdges">
<line x1="6" y1="756.5" x2="1641" y2="756.5" stroke="#000" stroke-width="1" stroke-dasharray="3 3"/>
<line x1="6" y1="782.5" x2="1641" y2="782.5" stroke="#000" stroke-width="1" stroke-dasharray="3 3"/>
<line x1="6" y1="812.5" x2="1641" y2="812.5" stroke="#000" stroke-width="1" stroke-dasharray="3 3"/>
</g>
<text x="9" y="749.3" font-size="10" fill="#000" stroke="#000" stroke-width="0.12" text-anchor="start" textLength="68" lengthAdjust="spacingAndGlyphs" >RSI(15) 54.3128</text>
<text x="1648" y="748.3" font-size="10" fill="#000" stroke="#000" stroke-width="0.12" text-anchor="start" textLength="15.3" lengthAdjust="spacingAndGlyphs" >100</text>
<text x="1646.6" y="760.1" font-size="10" fill="#000" stroke="#000" stroke-width="0.12" text-anchor="start" textLength="10.6" lengthAdjust="spacingAndGlyphs" >80</text>
<text x="1646.6" y="786.3" font-size="10" fill="#000" stroke="#000" stroke-width="0.12" text-anchor="start" textLength="10.6" lengthAdjust="spacingAndGlyphs" >50</text>
<text x="1647.4" y="816.3" font-size="10" fill="#000" stroke="#000" stroke-width="0.12" text-anchor="start" textLength="9.8" lengthAdjust="spacingAndGlyphs" >15</text>
<text x="1648" y="824.1" font-size="10" fill="#000" stroke="#000" stroke-width="0.12" text-anchor="start" textLength="5" lengthAdjust="spacingAndGlyphs" >0</text>
<g shape-rendering="crispEdges">
<rect x="5" y="827" width="1" height="3" fill="#000"/>
<rect x="69" y="827" width="1" height="3" fill="#000"/>
<rect x="133" y="827" width="1" height="3" fill="#000"/>
<rect x="197" y="827" width="1" height="3" fill="#000"/>
<rect x="261" y="827" width="1" height="3" fill="#000"/>
<rect x="325" y="827" width="1" height="3" fill="#000"/>
<rect x="389" y="827" width="1" height="3" fill="#000"/>
<rect x="453" y="827" width="1" height="3" fill="#000"/>
<rect x="517" y="827" width="1" height="3" fill="#000"/>
<rect x="581" y="827" width="1" height="3" fill="#000"/>
<rect x="645" y="827" width="1" height="3" fill="#000"/>
<rect x="709" y="827" width="1" height="3" fill="#000"/>
<rect x="773" y="827" width="1" height="3" fill="#000"/>
<rect x="837" y="827" width="1" height="3" fill="#000"/>
<rect x="901" y="827" width="1" height="3" fill="#000"/>
<rect x="965" y="827" width="1" height="3" fill="#000"/>
<rect x="1029" y="827" width="1" height="3" fill="#000"/>
<rect x="1093" y="827" width="1" height="3" fill="#000"/>
<rect x="1157" y="827" width="1" height="3" fill="#000"/>
<rect x="1221" y="827" width="1" height="3" fill="#000"/>
<rect x="1285" y="827" width="1" height="3" fill="#000"/>
</g>
<text x="4" y="839" font-size="10" fill="#000" stroke="#000" stroke-width="0.12" text-anchor="start" textLength="49.5" lengthAdjust="spacingAndGlyphs" >28 Jun 2022</text>
<text x="68" y="839" font-size="10" fill="#000" stroke="#000" stroke-width="0.12" text-anchor="start" textLength="53.3" lengthAdjust="spacingAndGlyphs" >30 Jun 05:00</text>
<text x="132" y="839" font-size="10" fill="#000" stroke="#000" stroke-width="0.12" text-anchor="start" textLength="44.9" lengthAdjust="spacingAndGlyphs" >5 Jul 05:00</text>
<text x="196" y="839" font-size="10" fill="#000" stroke="#000" stroke-width="0.12" text-anchor="start" textLength="44.9" lengthAdjust="spacingAndGlyphs" >7 Jul 05:00</text>
<text x="260" y="839" font-size="10" fill="#000" stroke="#000" stroke-width="0.12" text-anchor="start" textLength="49.4" lengthAdjust="spacingAndGlyphs" >11 Jul 05:00</text>
<text x="324" y="839" font-size="10" fill="#000" stroke="#000" stroke-width="0.12" text-anchor="start" textLength="49.4" lengthAdjust="spacingAndGlyphs" >13 Jul 05:00</text>
<text x="388" y="839" font-size="10" fill="#000" stroke="#000" stroke-width="0.12" text-anchor="start" textLength="49.4" lengthAdjust="spacingAndGlyphs" >15 Jul 05:00</text>
<text x="452" y="839" font-size="10" fill="#000" stroke="#000" stroke-width="0.12" text-anchor="start" textLength="49.4" lengthAdjust="spacingAndGlyphs" >19 Jul 05:00</text>
<text x="516" y="839" font-size="10" fill="#000" stroke="#000" stroke-width="0.12" text-anchor="start" textLength="49.4" lengthAdjust="spacingAndGlyphs" >21 Jul 05:00</text>
<text x="580" y="839" font-size="10" fill="#000" stroke="#000" stroke-width="0.12" text-anchor="start" textLength="49.4" lengthAdjust="spacingAndGlyphs" >25 Jul 05:00</text>
<text x="644" y="839" font-size="10" fill="#000" stroke="#000" stroke-width="0.12" text-anchor="start" textLength="49.4" lengthAdjust="spacingAndGlyphs" >27 Jul 05:00</text>
<text x="708" y="839" font-size="10" fill="#000" stroke="#000" stroke-width="0.12" text-anchor="start" textLength="49.4" lengthAdjust="spacingAndGlyphs" >29 Jul 05:00</text>
<text x="772" y="839" font-size="10" fill="#000" stroke="#000" stroke-width="0.12" text-anchor="start" textLength="50.6" lengthAdjust="spacingAndGlyphs" >2 Aug 05:00</text>
<text x="836" y="839" font-size="10" fill="#000" stroke="#000" stroke-width="0.12" text-anchor="start" textLength="50.6" lengthAdjust="spacingAndGlyphs" >4 Aug 05:00</text>
<text x="900" y="839" font-size="10" fill="#000" stroke="#000" stroke-width="0.12" text-anchor="start" textLength="50.6" lengthAdjust="spacingAndGlyphs" >8 Aug 05:00</text>
<text x="964" y="839" font-size="10" fill="#000" stroke="#000" stroke-width="0.12" text-anchor="start" textLength="55.9" lengthAdjust="spacingAndGlyphs" >10 Aug 05:00</text>
<text x="1028" y="839" font-size="10" fill="#000" stroke="#000" stroke-width="0.12" text-anchor="start" textLength="55.9" lengthAdjust="spacingAndGlyphs" >12 Aug 05:00</text>
<text x="1092" y="839" font-size="10" fill="#000" stroke="#000" stroke-width="0.12" text-anchor="start" textLength="55.9" lengthAdjust="spacingAndGlyphs" >16 Aug 05:00</text>
<text x="1156" y="839" font-size="10" fill="#000" stroke="#000" stroke-width="0.12" text-anchor="start" textLength="55.9" lengthAdjust="spacingAndGlyphs" >18 Aug 05:00</text>
<text x="1220" y="839" font-size="10" fill="#000" stroke="#000" stroke-width="0.12" text-anchor="start" textLength="55.9" lengthAdjust="spacingAndGlyphs" >22 Aug 05:00</text>
<text x="1284" y="839" font-size="10" fill="#000" stroke="#000" stroke-width="0.12" text-anchor="start" textLength="55.9" lengthAdjust="spacingAndGlyphs" >24 Aug 05:00</text>
<g><line x1="1287.2" y1="623.2" x2="1368" y2="521.5" stroke="#e8141e" stroke-width="2.6" stroke-linecap="round"/><path d="M1378.6 508L1360.3 516.6L1374.6 527.3z" fill="#e8141e"/></g>
</svg>
<svg width="1692" height="26" viewBox="0 0 1692 26" style="position:absolute;left:0;top:0;will-change:transform" font-family="Liberation Sans, sans-serif">
<defs>
<linearGradient id="gp" x1="0" y1="0" x2="0" y2="1"><stop offset="0" stop-color="#8dff8d"/><stop offset="1" stop-color="#10c818"/></linearGradient>
<linearGradient id="gold" x1="0" y1="0" x2="1" y2="1"><stop offset="0" stop-color="#ffe040"/><stop offset="1" stop-color="#d89000"/></linearGradient>
<linearGradient id="cloud" x1="0" y1="0" x2="0" y2="1"><stop offset="0" stop-color="#ffffff"/><stop offset="1" stop-color="#b8c4dc"/></linearGradient>
<linearGradient id="hat" x1="0" y1="0" x2="0" y2="1"><stop offset="0" stop-color="#7cc4ec"/><stop offset="1" stop-color="#3088c0"/></linearGradient>
<linearGradient id="face" x1="0" y1="0" x2="1" y2="1"><stop offset="0" stop-color="#fff080"/><stop offset="1" stop-color="#e8b000"/></linearGradient>
<linearGradient id="stop" x1="0" y1="0" x2="0" y2="1"><stop offset="0" stop-color="#f04020"/><stop offset="1" stop-color="#c81000"/></linearGradient>
<radialGradient id="lens" cx="0.4" cy="0.35" r="0.7"><stop offset="0" stop-color="#ffffff"/><stop offset="1" stop-color="#b8e4fc"/></radialGradient>
<linearGradient id="badge" x1="0" y1="0" x2="0" y2="1"><stop offset="0" stop-color="#e85838"/><stop offset="1" stop-color="#d81808"/></linearGradient>
<linearGradient id="clk" x1="0" y1="0" x2="0" y2="1"><stop offset="0" stop-color="#2890f0"/><stop offset="1" stop-color="#0850b0"/></linearGradient>
<linearGradient id="tb" x1="0" y1="0" x2="0" y2="1"><stop offset="0" stop-color="#a8ccf4"/><stop offset="1" stop-color="#3474cc"/></linearGradient>
<pattern id="chk" width="2" height="2" patternUnits="userSpaceOnUse"><rect width="2" height="2" fill="#ffffff"/><rect width="1" height="1" fill="#f0f0f0"/><rect x="1" y="1" width="1" height="1" fill="#f0f0f0"/></pattern>
</defs>
<g shape-rendering="crispEdges">
<rect x="5" y="3" width="1" height="21" fill="#a0a0a0"/>
</g>
<path d="M15.5 7.5q0-1 1-1h6.300l3.500 3.500v9q0 1-1 1h-8.800q-1 0-1-1z" fill="#fff" stroke="#686868"/>
<path d="M22.800 6.500v3.500h3.5" fill="#e8e8e8" stroke="#686868" stroke-width="0.8"/>
<rect x="17.5" y="8.5" width="2.5" height="1" fill="#909090"/><rect x="17.5" y="12" width="5" height="1" fill="#a0a0a0"/><rect x="17.5" y="14" width="4" height="1" fill="#a0a0a0"/><rect x="17.5" y="16" width="2" height="1" fill="#a0a0a0"/>
<path transform="translate(19,12)" d="M4.5 0.5h3v4h4v3h-4v4h-3v-4h-4v-3h4z" fill="url(#gp)" stroke="#0a8a10" stroke-width="1"/>
<text x="34" y="17.3" font-size="12" fill="#000" stroke="#000" stroke-width="0.26" style="font-family:'Liberation Sans','Noto Sans CJK SC',sans-serif">新订单</text>
<path d="M82 15.300L89.700 19.800L97.600 13.800L98 16.500L89.800 21.800L82 16.800z" fill="#c89c38" stroke="#8c5c08" stroke-width="0.8" stroke-linejoin="round"/>
<path d="M88 7L97.600 13.800L89.700 19.800L82 15.300L86.200 11.800z" fill="url(#gold)" stroke="#a06808" stroke-width="0.900" stroke-linejoin="round"/>
<path d="M112.500 6.500h7l3.500 1.500v8h-10.500z" fill="#1c90f4" stroke="#1070d8" stroke-width="0.8"/>
<path d="M112.500 7l3 2v7" fill="none" stroke="#b8e0ff" stroke-width="1"/><rect x="117.5" y="10.5" width="4.5" height="1.5" fill="#d8f0ff"/>
<path d="M113 21.500q-2.800 0-2.800-2.500q0-2.300 2.800-2.300q0.300-2.500 3.300-2.500q2.500 0 3.400 2q1-1 2.500-0.700q2.500 0.500 2.300 3q1.500 0.500 1.500 1.500q0 1.500-2 1.500z" fill="url(#cloud)" stroke="#4868a8" stroke-width="0.9"/>
<path d="M146 14L146 21.800A7.800 7.800 0 0 0 151.500 8.500z" fill="#60b860" opacity="0.350"/>
<path d="M146 6.500A7.500 7.500 0 0 0 146 21.500" fill="none" stroke="#4878d8" stroke-width="1" opacity="0.750"/>
<path d="M146 6.500A7.500 7.500 0 0 1 146 21.500" fill="none" stroke="#58a058" stroke-width="1" opacity="0.750"/>
<path d="M146 9.300A4.700 4.700 0 0 0 146 18.700" fill="none" stroke="#3868d8" stroke-width="1" opacity="0.8"/>
<path d="M146 9.300A4.700 4.700 0 0 1 146 18.700" fill="none" stroke="#58a058" stroke-width="1" opacity="0.8"/>
<circle cx="145.8" cy="13.8" r="2" fill="#2058d8"/>
<rect x="146" y="14" width="1.200" height="7.8" fill="#18a018"/>
<path d="M166 13.500L181 12.500L176 21.500L172.500 21.500z" fill="url(#face)" stroke="#c89000" stroke-width="0.8"/>
<ellipse cx="173.200" cy="11.300" rx="7.900" ry="2.700" fill="url(#hat)" stroke="#2878b0" stroke-width="0.8"/><path d="M169 10.500q0-4.300 4.200-4.300q4.200 0 4.200 4.300q-4.200 1.600-8.400 0z" fill="url(#hat)" stroke="#2878b0" stroke-width="0.700"/>
<circle cx="177.400" cy="17.8" r="4.100" fill="url(#stop)"/><rect x="176" y="16.400" width="3" height="3" fill="#fff"/>
<text x="186" y="17.3" font-size="12" fill="#000" stroke="#000" stroke-width="0.26" style="font-family:'Liberation Sans','Noto Sans CJK SC',sans-serif">自动交易</text>
<g shape-rendering="crispEdges">
<rect x="241" y="1" width="1" height="25" fill="#a0a0a0"/><rect x="242" y="1" width="1" height="25" fill="#fff"/>
<rect x="245" y="4" width="3" height="1" fill="#a8a8a8"/>
<rect x="245" y="6" width="3" height="1" fill="#a8a8a8"/>
<rect x="245" y="8" width="3" height="1" fill="#a8a8a8"/>
<rect x="245" y="10" width="3" height="1" fill="#a8a8a8"/>
<rect x="245" y="12" width="3" height="1" fill="#a8a8a8"/>
<rect x="245" y="14" width="3" height="1" fill="#a8a8a8"/>
<rect x="245" y="16" width="3" height="1" fill="#a8a8a8"/>
<rect x="245" y="18" width="3" height="1" fill="#a8a8a8"/>
<rect x="245" y="20" width="3" height="1" fill="#a8a8a8"/>
<rect x="245" y="22" width="3" height="1" fill="#a8a8a8"/>
<rect x="259" y="8" width="1" height="14" fill="#4a4a4a"/>
<rect x="257" y="19" width="14" height="1" fill="#4a4a4a"/>
<rect x="258" y="9" width="3" height="1" fill="#4a4a4a"/>
<rect x="269" y="18" width="1" height="3" fill="#4a4a4a"/>
<rect x="265" y="9" width="1" height="9" fill="#0a8a10"/><rect x="266" y="10" width="2" height="1" fill="#0a8a10"/><rect x="263" y="16" width="2" height="1" fill="#0a8a10"/>
<rect x="279" y="2" width="25" height="22" fill="url(#chk)"/>
<rect x="279" y="2" width="25" height="1" fill="#a0a0a0"/><rect x="279" y="2" width="1" height="22" fill="#a0a0a0"/>
<rect x="304" y="2" width="1" height="23" fill="#fff"/><rect x="279" y="24" width="26" height="1" fill="#fff"/>
<rect x="287" y="8" width="1" height="14" fill="#4a4a4a"/>
<rect x="285" y="19" width="14" height="1" fill="#4a4a4a"/>
<rect x="286" y="9" width="3" height="1" fill="#4a4a4a"/>
<rect x="297" y="18" width="1" height="3" fill="#4a4a4a"/>
<rect x="293" y="6" width="1" height="12" fill="#0a8a10"/><rect x="291" y="8" width="5" height="9" fill="#0a8a10"/><rect x="292" y="9" width="3" height="7" fill="#70f070"/>
<rect x="315" y="8" width="1" height="14" fill="#4a4a4a"/>
<rect x="313" y="19" width="14" height="1" fill="#4a4a4a"/>
<rect x="314" y="9" width="3" height="1" fill="#4a4a4a"/>
<rect x="325" y="18" width="1" height="3" fill="#4a4a4a"/>
</g>
<path d="M314 17Q317 14.500 318.500 12.500Q320.200 10.300 322 12Q324 14.500 326 15.200" fill="none" stroke="#2a9a30" stroke-width="1.100"/>
<g shape-rendering="crispEdges">
<rect x="336" y="3" width="1" height="21" fill="#a0a0a0"/>
</g>
<path d="M355 16.500L360.3 21" stroke="#a87808" stroke-width="3.600" stroke-linecap="butt"/>
<path d="M355.3 16.700L360 20.700" stroke="#f0d020" stroke-width="2" stroke-linecap="butt"/>
<circle cx="351" cy="12" r="5.600" fill="url(#lens)" stroke="#2c7cc8" stroke-width="1.200"/>
<rect x="347.5" y="11" width="7" height="2" fill="#3c88b4"/>
<rect x="350" y="8.5" width="2" height="7" fill="#3c88b4"/>
<path d="M383 16.500L388.3 21" stroke="#a87808" stroke-width="3.600" stroke-linecap="butt"/>
<path d="M383.3 16.700L388 20.700" stroke="#f0d020" stroke-width="2" stroke-linecap="butt"/>
<circle cx="379" cy="12" r="5.600" fill="url(#lens)" stroke="#2c7cc8" stroke-width="1.200"/>
<rect x="375.5" y="11" width="7" height="2" fill="#3c88b4"/>
<g shape-rendering="crispEdges">
<rect x="401" y="6" width="8" height="8" fill="#2c9c18"/>
<rect x="402" y="7" width="1" height="1" fill="#fff" opacity="0.8"/>
<rect x="402" y="9" width="6" height="3" fill="#fff"/><rect x="402" y="12" width="1" height="1" fill="#fff"/><rect x="407" y="12" width="1" height="1" fill="#fff"/>
<rect x="403" y="10" width="4" height="1" fill="#a0e080"/>
<rect x="409" y="6" width="8" height="8" fill="#1848c8"/>
<rect x="410" y="7" width="1" height="1" fill="#fff" opacity="0.8"/>
<rect x="410" y="9" width="6" height="3" fill="#fff"/><rect x="410" y="12" width="1" height="1" fill="#fff"/><rect x="415" y="12" width="1" height="1" fill="#fff"/>
<rect x="411" y="10" width="4" height="1" fill="#90a8f0"/>
<rect x="401" y="14" width="8" height="8" fill="#1c50d0"/>
<rect x="402" y="15" width="1" height="1" fill="#fff" opacity="0.8"/>
<rect x="402" y="17" width="6" height="3" fill="#fff"/><rect x="402" y="20" width="1" height="1" fill="#fff"/><rect x="407" y="20" width="1" height="1" fill="#fff"/>
<rect x="403" y="18" width="4" height="1" fill="#90a8f0"/>
<rect x="409" y="14" width="8" height="8" fill="#2c9c18"/>
<rect x="410" y="15" width="1" height="1" fill="#fff" opacity="0.8"/>
<rect x="410" y="17" width="6" height="3" fill="#fff"/><rect x="410" y="20" width="1" height="1" fill="#fff"/><rect x="415" y="20" width="1" height="1" fill="#fff"/>
<rect x="411" y="18" width="4" height="1" fill="#a0e080"/>
<rect x="426" y="3" width="1" height="21" fill="#a0a0a0"/>
<rect x="431" y="2" width="25" height="22" fill="url(#chk)"/>
<rect x="431" y="2" width="25" height="1" fill="#a0a0a0"/><rect x="431" y="2" width="1" height="22" fill="#a0a0a0"/>
<rect x="456" y="2" width="1" height="23" fill="#fff"/><rect x="431" y="24" width="26" height="1" fill="#fff"/>
<rect x="439" y="8" width="1" height="14" fill="#4a4a4a"/>
<rect x="437" y="19" width="14" height="1" fill="#4a4a4a"/>
<rect x="438" y="9" width="3" height="1" fill="#4a4a4a"/>
<rect x="449" y="18" width="1" height="3" fill="#4a4a4a"/>
<rect x="459" y="2" width="25" height="22" fill="url(#chk)"/>
<rect x="459" y="2" width="25" height="1" fill="#a0a0a0"/><rect x="459" y="2" width="1" height="22" fill="#a0a0a0"/>
<rect x="484" y="2" width="1" height="23" fill="#fff"/><rect x="459" y="24" width="26" height="1" fill="#fff"/>
<rect x="467" y="8" width="1" height="14" fill="#4a4a4a"/>
<rect x="465" y="19" width="14" height="1" fill="#4a4a4a"/>
<rect x="466" y="9" width="3" height="1" fill="#4a4a4a"/>
<rect x="477" y="18" width="1" height="3" fill="#4a4a4a"/>
<rect x="473" y="8" width="1" height="10" fill="#1070b0"/>
</g>
<path d="M444 10.200L447.800 13.600L444 17z" fill="#80e880" stroke="#0a9a10" stroke-width="1"/>
<path d="M474.600 13.500L477.200 11.200L476.800 13L479 13v1L476.800 14L477.200 15.800z" fill="#e05000" stroke="#c04000" stroke-width="0.5"/>
<g shape-rendering="crispEdges">
<rect x="488" y="3" width="1" height="21" fill="#a0a0a0"/>
</g>
<path d="M498.500 8q0-1.500 1.500-1.500h6.500l3.500 3.500v8q0 1.500-1.500 1.500h-8.500q-1.500 0-1.500-1.500z" fill="#fff" stroke="#606060"/>
<path d="M506.500 6.500v3.500h3.500" fill="#e8e8e8" stroke="#606060" stroke-width="0.8"/>
<path d="M502 9.500q-1.500 0-1.500 1.500v1.500q0 1-1 1q1 0 1 1v1.500q0 1.500 1.500 1.500" fill="none" stroke="#605030" stroke-width="0.900"/>
<path transform="translate(502,12)" d="M4.500 0.500h3v4h4v3h-4v4h-3v-4h-4v-3h4z" fill="url(#gp)" stroke="#0a8a10" stroke-width="1"/>
<path d="M520.0 13h5v1h-1v1h-1v1h-1v-1h-1v-1h-1z" fill="#000"/>
<circle cx="544" cy="14" r="6.600" fill="#f4f6fa" stroke="url(#clk)" stroke-width="2.5"/>
<circle cx="544" cy="14" r="4.600" fill="none" stroke="#8890a0" stroke-width="0.900" stroke-dasharray="0.600 1.808"/>
<path d="M543.800 10.300v3.900h2.800" fill="none" stroke="#202020" stroke-width="1.100"/>
<path d="M559.0 13h5v1h-1v1h-1v1h-1v-1h-1v-1h-1z" fill="#000"/>
<rect x="575.5" y="7.500" width="15" height="13" fill="#fff" stroke="#3878c8" stroke-width="1"/>
<rect x="576" y="8" width="14" height="2" fill="url(#tb)"/>
<rect x="576" y="15" width="14" height="1" fill="#3878c8" opacity="0.700"/>
<path d="M577.500 13.300h1.500l1.500-1.300h2l1-0.700l1.500 0.800h1.500l1.500-1" fill="none" stroke="#a02810" stroke-width="1.200"/>
<path d="M578 18.800h2l1-0.800l1.500 0.800l2.500-2.300l2.500 2.300" fill="none" stroke="#189028" stroke-width="1.200"/>
<path d="M598.0 13h5v1h-1v1h-1v1h-1v-1h-1v-1h-1z" fill="#000"/>
<g shape-rendering="crispEdges">
<rect x="609" y="1" width="1" height="25" fill="#a0a0a0"/><rect x="610" y="1" width="1" height="25" fill="#fff"/>
<rect x="613" y="4" width="3" height="1" fill="#a8a8a8"/>
<rect x="613" y="6" width="3" height="1" fill="#a8a8a8"/>
<rect x="613" y="8" width="3" height="1" fill="#a8a8a8"/>
<rect x="613" y="10" width="3" height="1" fill="#a8a8a8"/>
<rect x="613" y="12" width="3" height="1" fill="#a8a8a8"/>
<rect x="613" y="14" width="3" height="1" fill="#a8a8a8"/>
<rect x="613" y="16" width="3" height="1" fill="#a8a8a8"/>
<rect x="613" y="18" width="3" height="1" fill="#a8a8a8"/>
<rect x="613" y="20" width="3" height="1" fill="#a8a8a8"/>
<rect x="613" y="22" width="3" height="1" fill="#a8a8a8"/>
<rect x="619" y="2" width="25" height="22" fill="url(#chk)"/>
<rect x="619" y="2" width="25" height="1" fill="#a0a0a0"/><rect x="619" y="2" width="1" height="22" fill="#a0a0a0"/>
<rect x="644" y="2" width="1" height="23" fill="#fff"/><rect x="619" y="24" width="26" height="1" fill="#fff"/>
</g>
<path d="M627 7L627 18L629.700 15.800L632 21L634 20.100L631.600 15.200L635 14.700z" fill="#484848"/>
<g shape-rendering="crispEdges">
<rect x="659" y="7" width="1" height="6" fill="#4a4a4a"/><rect x="659" y="16" width="1" height="6" fill="#4a4a4a"/><rect x="652" y="14" width="6" height="1" fill="#4a4a4a"/><rect x="661" y="14" width="6" height="1" fill="#4a4a4a"/><rect x="659" y="14" width="1" height="1" fill="#a0a090"/>
<rect x="676" y="3" width="1" height="21" fill="#a0a0a0"/>
<rect x="693" y="8" width="1" height="13" fill="#4a4a4a"/>
<rect x="716" y="14" width="12" height="1" fill="#4a4a4a"/>
</g>
<path d="M743.700 20.900L756 8.800" stroke="#4a4a4a" stroke-width="1.100"/>
<g stroke="#4a4a4a" stroke-width="1.200" fill="none"><path d="M769.800 15.800L778.500 7.500"/><path d="M771.500 18.300L782 8.500"/><path d="M774.500 20.800L784 12"/><path d="M772 19.500l1.500-5.500l1.800 3l1.500-5.500l1.800 3l1.500-5.500l1.500 3l0-6" stroke-width="0.900"/></g>
<text x="781" y="22.800" font-size="6.500" font-weight="bold" fill="#4a4a4a">E</text>
<g shape-rendering="crispEdges">
<rect x="799" y="7" width="1" height="1" fill="#4a4a4a"/>
<rect x="801" y="7" width="1" height="1" fill="#4a4a4a"/>
<rect x="803" y="7" width="1" height="1" fill="#4a4a4a"/>
<rect x="805" y="7" width="1" height="1" fill="#4a4a4a"/>
<rect x="807" y="7" width="1" height="1" fill="#4a4a4a"/>
<rect x="809" y="7" width="1" height="1" fill="#4a4a4a"/>
<rect x="811" y="7" width="1" height="1" fill="#4a4a4a"/>
<rect x="799" y="10" width="1" height="1" fill="#4a4a4a"/>
<rect x="801" y="10" width="1" height="1" fill="#4a4a4a"/>
<rect x="803" y="10" width="1" height="1" fill="#4a4a4a"/>
<rect x="805" y="10" width="1" height="1" fill="#4a4a4a"/>
<rect x="807" y="10" width="1" height="1" fill="#4a4a4a"/>
<rect x="809" y="10" width="1" height="1" fill="#4a4a4a"/>
<rect x="811" y="10" width="1" height="1" fill="#4a4a4a"/>
<rect x="799" y="14" width="1" height="1" fill="#4a4a4a"/>
<rect x="801" y="14" width="1" height="1" fill="#4a4a4a"/>
<rect x="803" y="14" width="1" height="1" fill="#4a4a4a"/>
<rect x="805" y="14" width="1" height="1" fill="#4a4a4a"/>
<rect x="807" y="14" width="1" height="1" fill="#4a4a4a"/>
<rect x="809" y="14" width="1" height="1" fill="#4a4a4a"/>
<rect x="811" y="14" width="1" height="1" fill="#4a4a4a"/>
<rect x="799" y="18" width="1" height="1" fill="#4a4a4a"/>
<rect x="801" y="18" width="1" height="1" fill="#4a4a4a"/>
<rect x="803" y="18" width="1" height="1" fill="#4a4a4a"/>
<rect x="805" y="18" width="1" height="1" fill="#4a4a4a"/>
<rect x="807" y="18" width="1" height="1" fill="#4a4a4a"/>
</g>
<text x="809" y="22.800" font-size="6.500" font-weight="bold" fill="#4a4a4a">F</text>
<text x="833.700" y="19" font-size="12" fill="#4a4a4a" text-anchor="middle" stroke="#4a4a4a" stroke-width="0.250">A</text>
<g shape-rendering="crispEdges">
<rect x="856" y="8" width="1" height="1" fill="#4a4a4a"/><rect x="856" y="20" width="1" height="1" fill="#4a4a4a"/>
<rect x="858" y="8" width="1" height="1" fill="#4a4a4a"/><rect x="858" y="20" width="1" height="1" fill="#4a4a4a"/>
<rect x="860" y="8" width="1" height="1" fill="#4a4a4a"/><rect x="860" y="20" width="1" height="1" fill="#4a4a4a"/>
<rect x="862" y="8" width="1" height="1" fill="#4a4a4a"/><rect x="862" y="20" width="1" height="1" fill="#4a4a4a"/>
<rect x="864" y="8" width="1" height="1" fill="#4a4a4a"/><rect x="864" y="20" width="1" height="1" fill="#4a4a4a"/>
<rect x="866" y="8" width="1" height="1" fill="#4a4a4a"/><rect x="866" y="20" width="1" height="1" fill="#4a4a4a"/>
<rect x="868" y="8" width="1" height="1" fill="#4a4a4a"/><rect x="868" y="20" width="1" height="1" fill="#4a4a4a"/>
<rect x="856" y="8" width="1" height="1" fill="#4a4a4a"/><rect x="868" y="8" width="1" height="1" fill="#4a4a4a"/>
<rect x="856" y="10" width="1" height="1" fill="#4a4a4a"/><rect x="868" y="10" width="1" height="1" fill="#4a4a4a"/>
<rect x="856" y="12" width="1" height="1" fill="#4a4a4a"/><rect x="868" y="12" width="1" height="1" fill="#4a4a4a"/>
<rect x="856" y="14" width="1" height="1" fill="#4a4a4a"/><rect x="868" y="14" width="1" height="1" fill="#4a4a4a"/>
<rect x="856" y="16" width="1" height="1" fill="#4a4a4a"/><rect x="868" y="16" width="1" height="1" fill="#4a4a4a"/>
<rect x="856" y="18" width="1" height="1" fill="#4a4a4a"/><rect x="868" y="18" width="1" height="1" fill="#4a4a4a"/>
<rect x="856" y="20" width="1" height="1" fill="#4a4a4a"/><rect x="868" y="20" width="1" height="1" fill="#4a4a4a"/>
<rect x="855" y="7" width="2" height="1" fill="#4a4a4a"/>
<rect x="858" y="11" width="8" height="2" fill="#4a4a4a"/><rect x="861" y="11" width="2" height="8" fill="#4a4a4a"/>
</g>
<path d="M886.500 7.800L890.200 11.300L888 12.400L885 12.400L882.800 11.300z" fill="#4a4a4a"/>
<path d="M893.500 20.800L889.800 17.300L892 16.300L895 16.300L897.200 17.300z" fill="#4a4a4a"/>
<path d="M885.500 15L887.500 17L892.500 11.800" fill="none" stroke="#4a4a4a" stroke-width="1.300"/>
<path d="M904.0 13h5v1h-1v1h-1v1h-1v-1h-1v-1h-1z" fill="#000"/>
<g shape-rendering="crispEdges">
<rect x="915" y="1" width="1" height="25" fill="#a0a0a0"/><rect x="916" y="1" width="1" height="25" fill="#fff"/>
<rect x="919" y="4" width="3" height="1" fill="#a8a8a8"/>
<rect x="919" y="6" width="3" height="1" fill="#a8a8a8"/>
<rect x="919" y="8" width="3" height="1" fill="#a8a8a8"/>
<rect x="919" y="10" width="3" height="1" fill="#a8a8a8"/>
<rect x="919" y="12" width="3" height="1" fill="#a8a8a8"/>
<rect x="919" y="14" width="3" height="1" fill="#a8a8a8"/>
<rect x="919" y="16" width="3" height="1" fill="#a8a8a8"/>
<rect x="919" y="18" width="3" height="1" fill="#a8a8a8"/>
<rect x="919" y="20" width="3" height="1" fill="#a8a8a8"/>
<rect x="919" y="22" width="3" height="1" fill="#a8a8a8"/>
<rect x="1065" y="2" width="25" height="22" fill="url(#chk)"/>
<rect x="1065" y="2" width="25" height="1" fill="#a0a0a0"/><rect x="1065" y="2" width="1" height="22" fill="#a0a0a0"/>
<rect x="1090" y="2" width="1" height="23" fill="#fff"/><rect x="1065" y="24" width="26" height="1" fill="#fff"/>
<rect x="1176" y="1" width="1" height="25" fill="#a0a0a0"/>
</g>
<text x="937" y="17" font-size="9.300" fill="#383838" text-anchor="middle">M1</text>
<text x="965" y="17" font-size="9.300" fill="#383838" text-anchor="middle">M5</text>
<text x="993" y="17" font-size="9.300" fill="#383838" text-anchor="middle">M15</text>
<text x="1021" y="17" font-size="9.300" fill="#383838" text-anchor="middle">M30</text>
<text x="1049" y="17" font-size="9.300" fill="#383838" text-anchor="middle">H1</text>
<text x="1077" y="17" font-size="9.300" fill="#383838" text-anchor="middle">H4</text>
<text x="1105" y="17" font-size="9.300" fill="#383838" text-anchor="middle">D1</text>
<text x="1133" y="17" font-size="9.300" fill="#383838" text-anchor="middle">W1</text>
<text x="1161" y="17" font-size="9.300" fill="#383838" text-anchor="middle">MN</text>
<path d="M1643.500 14L1639.300 18.400" stroke="#1850c8" stroke-width="2.300" stroke-linecap="round"/>
<circle cx="1646.8" cy="11.200" r="3.700" fill="#f8f8ff" stroke="#2060d8" stroke-width="1.300"/>
<path d="M1664 16q0-4.500 5-4.500h3q4 0 4 4q0 4.500-5 4.500h-3l-1.800 2.300l-0.400-2.600q-1.800-1-1.800-3.700z" fill="#e4e6f0" stroke="#b0b0b8" stroke-width="0.8"/>
<circle cx="1677.500" cy="11.300" r="8.100" fill="url(#badge)"/>
<path d="M1675.600 7.100h1.900v7.900h1.600v1.200h-5.200v-1.200h1.700v-5.600l-1.700 0.600v-1.300z" fill="#fff"/>
</svg>
</body></html>
